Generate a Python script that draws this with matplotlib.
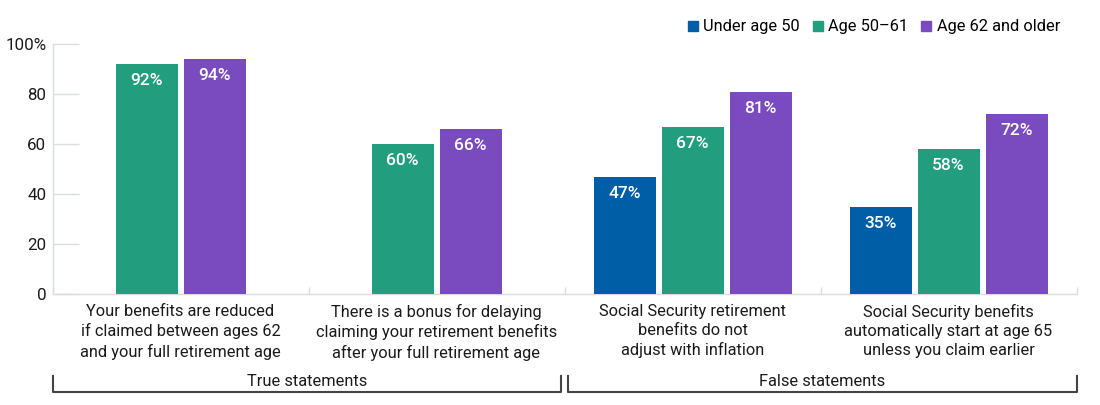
import matplotlib
matplotlib.use("Agg")
import matplotlib.pyplot as plt
from matplotlib.lines import Line2D
import matplotlib.transforms as mtransforms
import numpy as np

plt.rcParams['font.family'] = ['Roboto', 'DejaVu Sans']

categories = [
    "Your benefits are reduced\nif claimed between ages 62\nand your full retirement age",
    "There is a bonus for delaying\nclaiming your retirement benefits\nafter your full retirement age",
    "Social Security retirement\nbenefits do not\nadjust with inflation",
    "Social Security benefits\nautomatically start at age 65\nunless you claim earlier",
]
series_names = ["Under age 50", "Age 50\u201361", "Age 62 and older"]
under_50 = [None, None, 47, 35]
age_50_61 = [92, 60, 67, 58]
age_62_plus = [94, 66, 81, 72]
ytick_labels = ["0", "20", "40", "60", "80", "100%"]
group_labels = ["True statements", "False statements"]

colors = ["#005EA6", "#229E7E", "#7A4BBE"]
series = [under_50, age_50_61, age_62_plus]

FS = 11.8
fig = plt.figure(figsize=(11, 4.05), dpi=100)
ax = fig.add_axes([52.5/1100, 1-294.3/405, 1024/1100, 250/405])

bw = 62/256
pitch = 68/256
for i in range(len(categories)):
    present = [k for k in range(3) if series[k][i] is not None]
    n = len(present)
    for j, k in enumerate(present):
        x = i + (j - (n-1)/2) * pitch
        v = series[k][i]
        ax.bar(x, v, width=bw, color=colors[k], zorder=3)
        ax.text(x, v - 6.6, f"{v}%", ha='center', va='center', color='white',
                fontsize=12.5, fontweight='medium', zorder=4)

ax.set_xlim(-0.5, len(categories) - 0.5)
ax.set_ylim(0, 100)
ax.set_yticks([0, 20, 40, 60, 80, 100])
ax.set_yticklabels(ytick_labels, fontsize=12.2, color='#1a1a1a')
ax.tick_params(axis='y', direction='in', length=18.7, width=1, color='#d9dce3', pad=4.5)

ax.set_xticks(range(len(categories)))
ax.set_xticklabels(categories, fontsize=FS, color='#1a1a1a', linespacing=1.33)
ax.tick_params(axis='x', which='major', length=0, pad=7)
ax.set_xticks(np.arange(-0.5, len(categories), 1.0), minor=True)
ax.tick_params(axis='x', which='minor', direction='in', length=5, width=1, color='#d9dce3')

for s in ['top', 'right']:
    ax.spines[s].set_visible(False)
for s in ['left', 'bottom']:
    ax.spines[s].set_color('#d9dce3')
    ax.spines[s].set_linewidth(1)

# brackets
trans = mtransforms.blended_transform_factory(ax.transData, fig.transFigure)
y_line = 1 - 392/405
y_top = 1 - 376/405
y_text = 1 - 381/405
gap = 3.5/256
spans = [(-0.5, 1.5 - gap), (1.5 + gap, 3.5)]
for (x0, x1), lab in zip(spans, group_labels):
    ln = Line2D([x0, x0, x1, x1], [y_top, y_line, y_line, y_top], transform=trans,
                color='#444444', linewidth=1.5, clip_on=False)
    fig.add_artist(ln)
    fig.text((x0 + x1) / 2, y_text, lab, transform=trans, ha='center', va='center',
             fontsize=FS, color='#1a1a1a')

handles = [Line2D([], [], marker='s', linestyle='none', markersize=7,
                  markerfacecolor=c, markeredgecolor=c) for c in colors]
fig.legend(handles, series_names, loc='center right', bbox_to_anchor=(1060/1100, 1-27/405),
           ncol=3, frameon=False, fontsize=FS, handlelength=0.45, handletextpad=0.42,
           columnspacing=0.85, borderaxespad=0, borderpad=0)

fig.savefig("out.png", dpi=100)
